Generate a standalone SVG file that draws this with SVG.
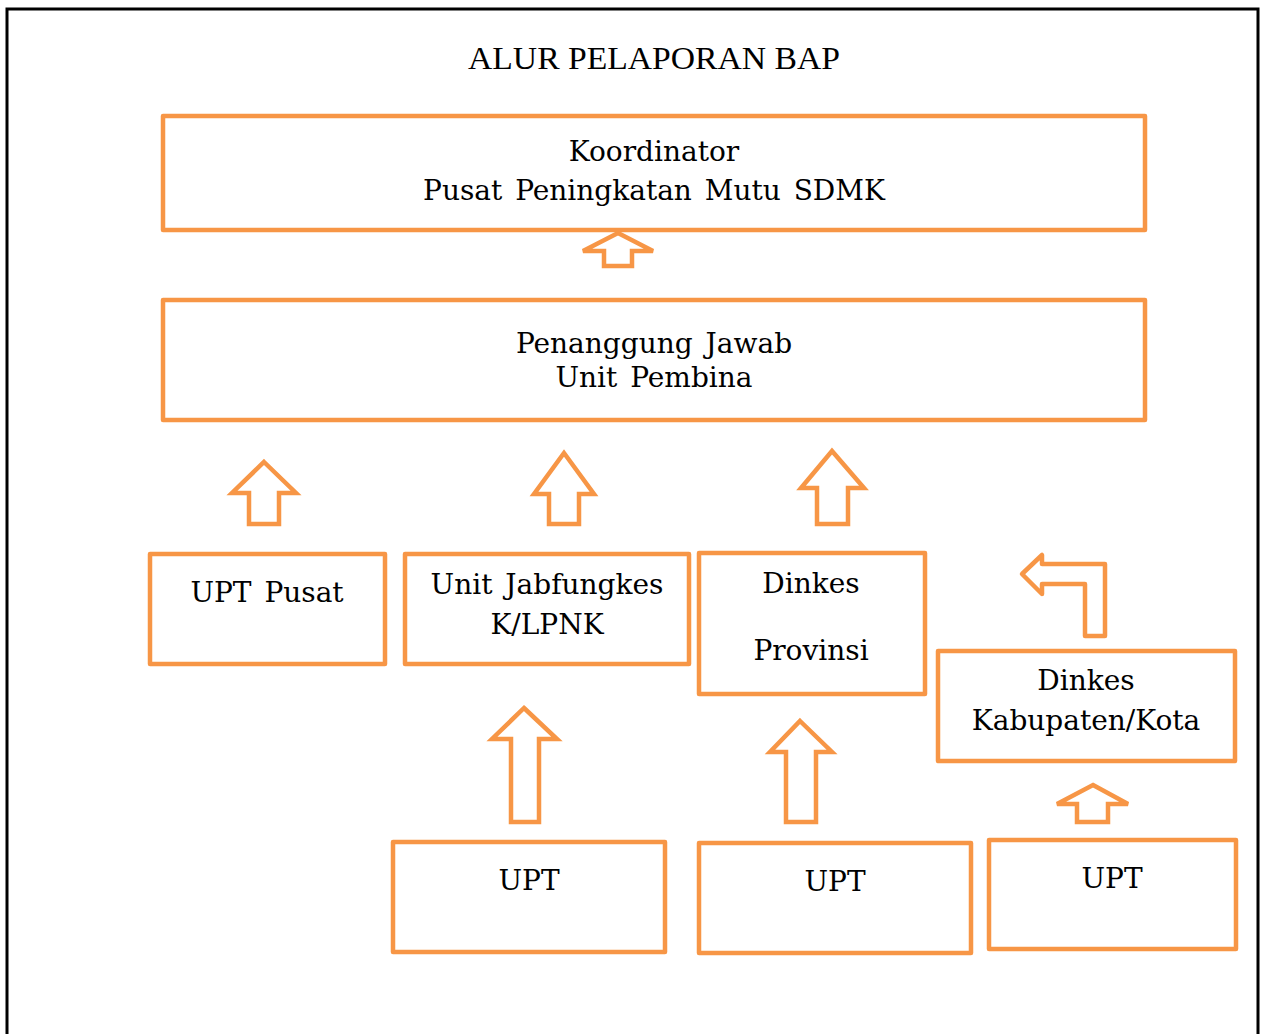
<svg xmlns="http://www.w3.org/2000/svg" width="1262" height="1034" viewBox="0 0 1262 1034">
<style>
.box{fill:#fff;stroke:#F79646;stroke-width:4.5;stroke-linejoin:round}
.arr{fill:#fff;stroke:#F79646;stroke-width:4.5;stroke-linejoin:miter}
.t{font-family:"DejaVu Serif","Liberation Serif",serif;font-size:28px;word-spacing:4px;fill:#000;text-anchor:middle}
.title{font-family:"Liberation Serif",serif;font-size:32px;fill:#000;text-anchor:middle}
</style>
<rect x="0" y="0" width="1262" height="1034" fill="#fff"/>
<path d="M7,1034 L7,9 L1258,9 L1258,1034" fill="none" stroke="#000" stroke-width="3"/>
<text class="title" x="654" y="69" textLength="372" lengthAdjust="spacingAndGlyphs">ALUR PELAPORAN BAP</text>

<g id="connectors">
<path class="arr" d="M618,233 L653,251 L632,251 L632,266 L604,266 L604,251 L583,251 Z"/>
<path class="arr" d="M264,462 L296,493 L279,493 L279,524 L249,524 L249,493 L232,493 Z"/>
<path class="arr" d="M564,453 L594,494 L579,494 L579,524 L549,524 L549,494 L534,494 Z"/>
<path class="arr" d="M832,451 L864,488 L848,488 L848,524 L817,524 L817,488 L801,488 Z"/>
<path class="arr" d="M524,708 L557,739 L539,739 L539,822 L511,822 L511,739 L492,739 Z"/>
<path class="arr" d="M800,721 L832,752 L816,752 L816,822 L786,822 L786,752 L770,752 Z"/>
<path class="arr" d="M1093,785 L1128,804 L1108,804 L1108,822 L1077,822 L1077,804 L1057,804 Z"/>
<path class="arr" style="stroke-linejoin:round" d="M1022,574 L1042,555 L1042,564 L1105,564 L1105,636 L1085,636 L1085,584 L1042,584 L1042,594 Z"/>
</g>

<g id="koordinator"><rect class="box" x="163" y="116" width="982" height="114"/>
<text class="t" x="654" y="161">Koordinator</text>
<text class="t" x="654" y="200">Pusat Peningkatan Mutu SDMK</text></g>

<g id="penanggung"><rect class="box" x="163" y="300" width="982" height="120"/>
<text class="t" x="654" y="353">Penanggung Jawab</text>
<text class="t" x="654" y="387">Unit Pembina</text></g>

<g id="upt-pusat"><rect class="box" x="150" y="554" width="235" height="110"/>
<text class="t" x="267" y="602">UPT Pusat</text></g>

<g id="unit-jabfungkes"><rect class="box" x="405" y="554" width="284" height="110"/>
<text class="t" x="547" y="594">Unit Jabfungkes</text>
<text class="t" x="547" y="634">K/LPNK</text></g>

<g id="dinkes-provinsi"><rect class="box" x="699" y="553" width="226" height="141"/>
<text class="t" x="811" y="593">Dinkes</text>
<text class="t" x="811" y="660">Provinsi</text></g>

<g id="dinkes-kabkota"><rect class="box" x="938" y="651" width="297" height="110"/>
<text class="t" x="1086" y="690">Dinkes</text>
<text class="t" x="1086" y="730">Kabupaten/Kota</text></g>

<g id="upt-1"><rect class="box" x="393" y="842" width="272" height="110"/>
<text class="t" x="529" y="890">UPT</text></g>

<g id="upt-2"><rect class="box" x="699" y="843" width="272" height="110"/>
<text class="t" x="835" y="891">UPT</text></g>

<g id="upt-3"><rect class="box" x="989" y="840" width="247" height="109"/>
<text class="t" x="1112" y="888">UPT</text></g>
</svg>
